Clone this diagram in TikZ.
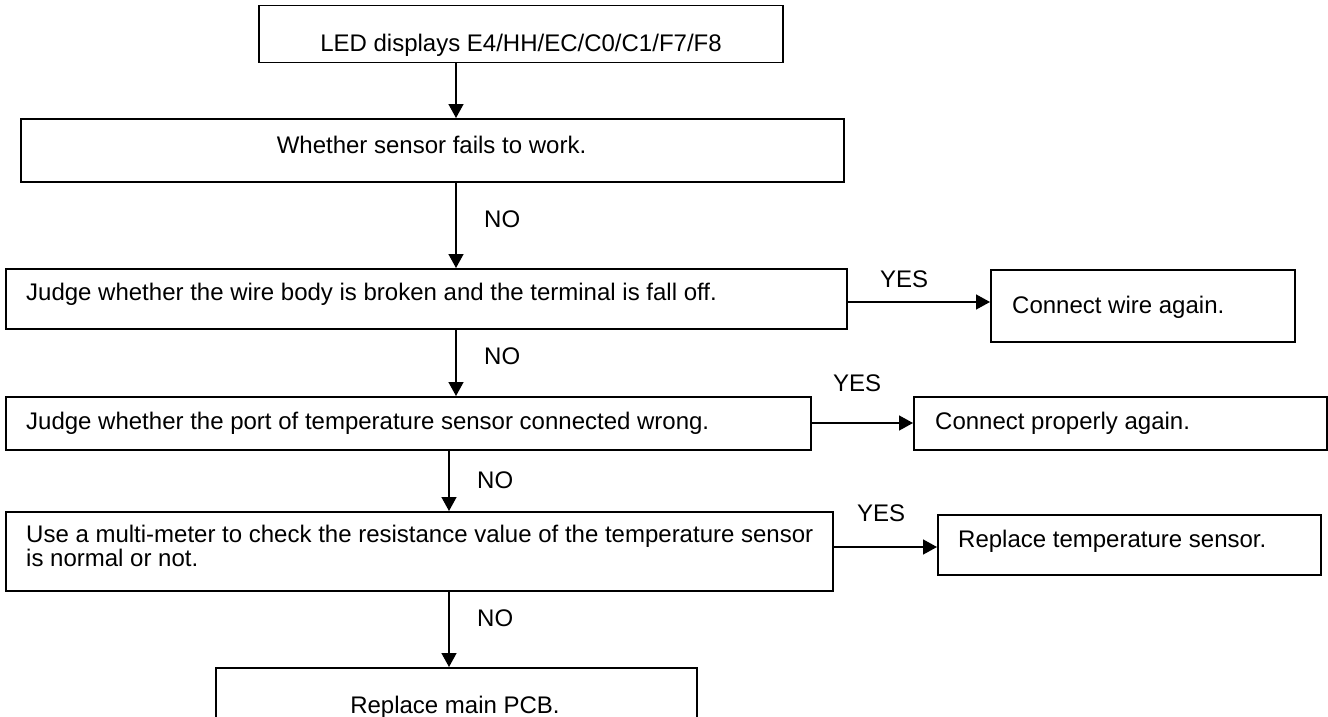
\documentclass[tikz,border=0pt]{standalone}
\usepackage{fontspec}
\setmainfont{Liberation Sans}
\usetikzlibrary{arrows.meta}
\begin{document}
\begin{tikzpicture}[x=1pt,y=-1pt,
  box/.style={draw, line width=1.5pt, inner sep=0pt, anchor=north west},
  txt/.style={inner sep=0pt, font=\fontsize{24}{21}\selectfont},
  arr/.style={line width=1.5pt, -{Triangle[length=14pt,width=15pt]}},
]
\useasboundingbox (0,0) rectangle (1328,717);
% boxes
\node[box, minimum width=524pt, minimum height=57pt] (b1) at (258,5) {};
\node[box, minimum width=823pt, minimum height=63pt] (b2) at (20,118) {};
\node[box, minimum width=841pt, minimum height=60pt] (b3) at (5,268) {};
\node[box, minimum width=805pt, minimum height=53pt] (b4) at (5,396) {};
\node[box, minimum width=827pt, minimum height=79pt] (b5) at (5,511) {};
\node[box, minimum width=481pt, minimum height=80pt] (b6) at (215,667) {};
\node[box, minimum width=304pt, minimum height=72pt] (w) at (990,269) {};
\node[box, minimum width=413pt, minimum height=53pt] (p) at (913,396) {};
\node[box, minimum width=383pt, minimum height=60pt] (r) at (937,514) {};
% texts
\node[txt, anchor=base] (t1) at (521,51.5) {LED displays E4/HH/EC/C0/C1/F7/F8};
\node[txt, anchor=base] (t2) at (431.5,153) {Whether sensor fails to work.};
\node[txt, anchor=base west] (t3) at (26,300) {Judge whether the wire body is broken and the terminal is fall off.};
\node[txt, anchor=base west] (t4) at (26,429) {Judge whether the port of temperature sensor connected wrong.};
\node[txt, anchor=base west, align=left] (t5) at (26,566) {Use a multi-meter to check the resistance value of the temperature sensor\\is normal or not.};
\node[txt, anchor=base] (t6) at (455,713) {Replace main PCB.};
\node[txt, anchor=base west] (tw) at (1012,313) {Connect wire again.};
\node[txt, anchor=base west] (tp) at (935,429) {Connect properly again.};
\node[txt, anchor=base west] (tr) at (958,547) {Replace temperature sensor.};
% connectors
\coordinate (xa) at (456,0);
\coordinate (xb) at (449,0);
\draw[arr] (b1.south -| xa) -- (b2.north -| xa);
\draw[arr] (b2.south -| xa) -- (b3.north -| xa);
\draw[arr] (b3.south -| xa) -- (b4.north -| xa);
\draw[arr] (b4.south -| xb) -- (b5.north -| xb);
\draw[arr] (b5.south -| xb) -- (b6.north -| xb);
\coordinate (y1) at (0,302);
\coordinate (y2) at (0,423);
\coordinate (y3) at (0,547);
\draw[arr] (b3.east |- y1) -- (w.west |- y1);
\draw[arr] (b4.east |- y2) -- (p.west |- y2);
\draw[arr] (b5.east |- y3) -- (r.west |- y3);
% labels
\node[txt, anchor=base west] (n2) at (484,227) {NO};
\node[txt, anchor=base west] (n3) at (484,364) {NO};
\node[txt, anchor=base west] (n4) at (477,488) {NO};
\node[txt, anchor=base west] (n5) at (477,626) {NO};
\node[txt, anchor=base west] (y1l) at (880,287) {YES};
\node[txt, anchor=base west] (y2l) at (833,391) {YES};
\node[txt, anchor=base west] (y3l) at (857,521) {YES};
\end{tikzpicture}
\end{document}
